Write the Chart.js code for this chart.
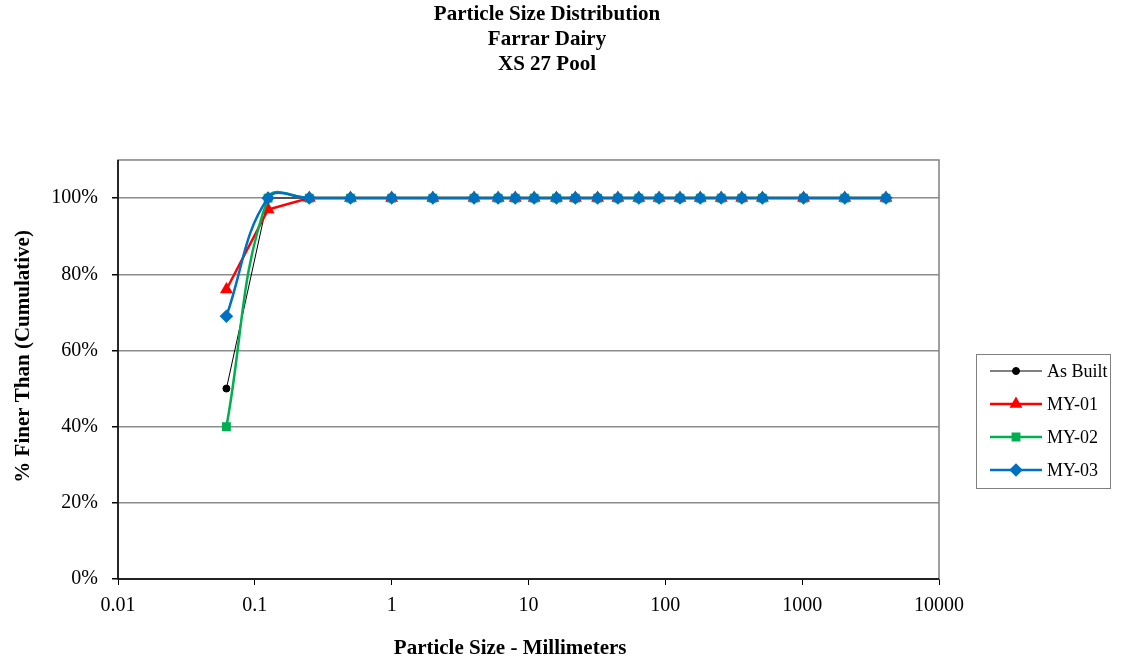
<!DOCTYPE html>
<html>
<head>
<meta charset="utf-8">
<script src="https://cdn.jsdelivr.net/npm/chart.js@4"></script>
<style>
  html, body { margin: 0; padding: 0; background: #fff; }
  #wrap { width: 1130px; height: 661px; }
</style>
</head>
<body>
<div id="wrap"><canvas id="myChart" width="1130" height="661"></canvas></div>
<script>
// sieve sizes (mm)
const sizes = [0.062, 0.125, 0.25, 0.5, 1, 2, 4, 6, 8, 11, 16, 22, 32, 45, 64, 90, 128, 180, 256, 362, 512, 1024, 2048, 4096];
// % finer than (cumulative)
const asBuilt = [50, 100, 100, 100, 100, 100, 100, 100, 100, 100, 100, 100, 100, 100, 100, 100, 100, 100, 100, 100, 100, 100, 100, 100];
const my01 = [76, 97, 100, 100, 100, 100, 100, 100, 100, 100, 100, 100, 100, 100, 100, 100, 100, 100, 100, 100, 100, 100, 100, 100];
const my02 = [40, 100, 100, 100, 100, 100, 100, 100, 100, 100, 100, 100, 100, 100, 100, 100, 100, 100, 100, 100, 100, 100, 100, 100];
const my03 = [69, 100, 100, 100, 100, 100, 100, 100, 100, 100, 100, 100, 100, 100, 100, 100, 100, 100, 100, 100, 100, 100, 100, 100];
const xTicks = [0.01, 0.1, 1, 10, 100, 1000, 10000];
const yTicks = [0, 20, 40, 60, 80, 100];

const serif = "'Liberation Serif', 'Times New Roman', serif";

function pts(vals) {
    return sizes.map((s, i) => ({ x: s, y: vals[i] }));
}

// frame round the plot area + legend drawn like the Excel one
const excelBits = {
    id: 'excelBits',
    beforeDatasetsDraw(chart) {
        const a = chart.chartArea, ctx = chart.ctx;
        ctx.save();
        ctx.strokeStyle = '#808080';
        ctx.lineWidth = 1.5;
        ctx.strokeRect(a.left, a.top, a.right - a.left, a.bottom - a.top);
        ctx.strokeStyle = '#000';
        ctx.beginPath();
        ctx.moveTo(a.left, a.top);
        ctx.lineTo(a.left, a.bottom);
        ctx.lineTo(a.right, a.bottom);
        ctx.stroke();
        ctx.restore();
    },
    afterDraw(chart) {
        const ctx = chart.ctx;
        const bx = 976, by = 354, bw = 134, bh = 134;
        ctx.save();
        ctx.fillStyle = '#fff';
        ctx.fillRect(bx, by, bw, bh);
        ctx.strokeStyle = '#808080';
        ctx.lineWidth = 1;
        ctx.strokeRect(bx + 0.5, by + 0.5, bw, bh);
        chart.data.datasets.forEach((ds, i) => {
            const y = by + 17 + i * 33;
            ctx.strokeStyle = ds.borderColor;
            ctx.lineWidth = ds.borderWidth;
            ctx.beginPath();
            ctx.moveTo(990, y);
            ctx.lineTo(1042, y);
            ctx.stroke();
            ctx.fillStyle = ds.borderColor;
            Chart.helpers.drawPoint(ctx, {
                pointStyle: ds.pointStyle,
                radius: ds.pointRadius,
                borderWidth: 1
            }, 1016, y);
            ctx.fillStyle = '#000';
            ctx.font = '18px ' + serif;
            ctx.textBaseline = 'middle';
            ctx.fillText(ds.label, 1047, y + 1);
        });
        ctx.restore();
    }
};

const ctx = document.getElementById('myChart').getContext('2d');
new Chart(ctx, {
    type: 'line',
    data: {
        datasets: [
            { label: 'As Built', data: pts(asBuilt), borderColor: '#000000', backgroundColor: '#000000',
              borderWidth: 1, pointStyle: 'circle', pointRadius: 3.5, tension: 0, order: 4 },
            { label: 'MY-01', data: pts(my01), borderColor: '#ff0000', backgroundColor: '#ff0000',
              borderWidth: 2.5, pointStyle: 'triangle', pointRadius: 5, tension: 0, order: 3 },
            { label: 'MY-02', data: pts(my02), borderColor: '#00b050', backgroundColor: '#00b050',
              borderWidth: 2.5, pointStyle: 'rect', pointRadius: 4.5, tension: 0.4, order: 2 },
            { label: 'MY-03', data: pts(my03), borderColor: '#0070c0', backgroundColor: '#0070c0',
              borderWidth: 2.5, pointStyle: 'rectRot', pointRadius: 5, tension: 0.4, order: 1 }
        ]
    },
    options: {
        responsive: false,
        animation: false,
        // right padding puts the title centre at ~547 like the original
        layout: { padding: { left: 11, right: 47, top: 0, bottom: 0 } },
        plugins: {
            legend: { display: false },
            tooltip: { enabled: false },
            title: {
                display: true,
                text: ['Particle Size Distribution', 'Farrar Dairy', 'XS 27 Pool'],
                color: '#000',
                font: { family: serif, size: 21, weight: 'bold', lineHeight: 1.19 },
                padding: { top: 2, bottom: 83 }
            }
        },
        scales: {
            x: {
                type: 'logarithmic',
                min: 0.01,
                max: 10000,
                afterBuildTicks: s => { s.ticks = xTicks.map(v => ({ value: v })); },
                afterFit: s => { s.height = 82; },
                grid: { drawOnChartArea: false, drawTicks: true, tickLength: 6, color: '#000' },
                border: { display: false },
                ticks: {
                    color: '#000',
                    font: { family: serif, size: 20 },
                    padding: 9,
                    maxRotation: 0,
                    callback: v => String(v)
                },
                title: {
                    display: true,
                    // trailing spaces nudge it left, as in the original
                    text: 'Particle Size - Millimeters       ',
                    color: '#000',
                    font: { family: serif, size: 21, weight: 'bold' },
                    padding: 0
                }
            },
            y: {
                min: 0,
                max: 110,
                afterBuildTicks: s => { s.ticks = yTicks.map(v => ({ value: v })); },
                afterFit: s => { s.width = 107; },
                grid: { color: '#8c8c8c', lineWidth: 1.5, tickLength: 6, tickColor: '#000' },
                border: { display: false },
                ticks: {
                    color: '#000',
                    font: { family: serif, size: 20 },
                    padding: 14,
                    callback: v => v + '%'
                },
                title: {
                    display: true,
                    text: '     % Finer Than (Cumulative)',
                    color: '#000',
                    font: { family: serif, size: 21, weight: 'bold' },
                    padding: 0
                }
            },
            // empty right-hand scale: keeps room for the legend
            yRight: {
                position: 'right',
                min: 0,
                max: 110,
                grid: { display: false },
                border: { display: false },
                ticks: { display: false },
                afterFit: s => { s.width = 144; }
            }
        }
    },
    plugins: [excelBits]
});
</script>
</body>
</html>
